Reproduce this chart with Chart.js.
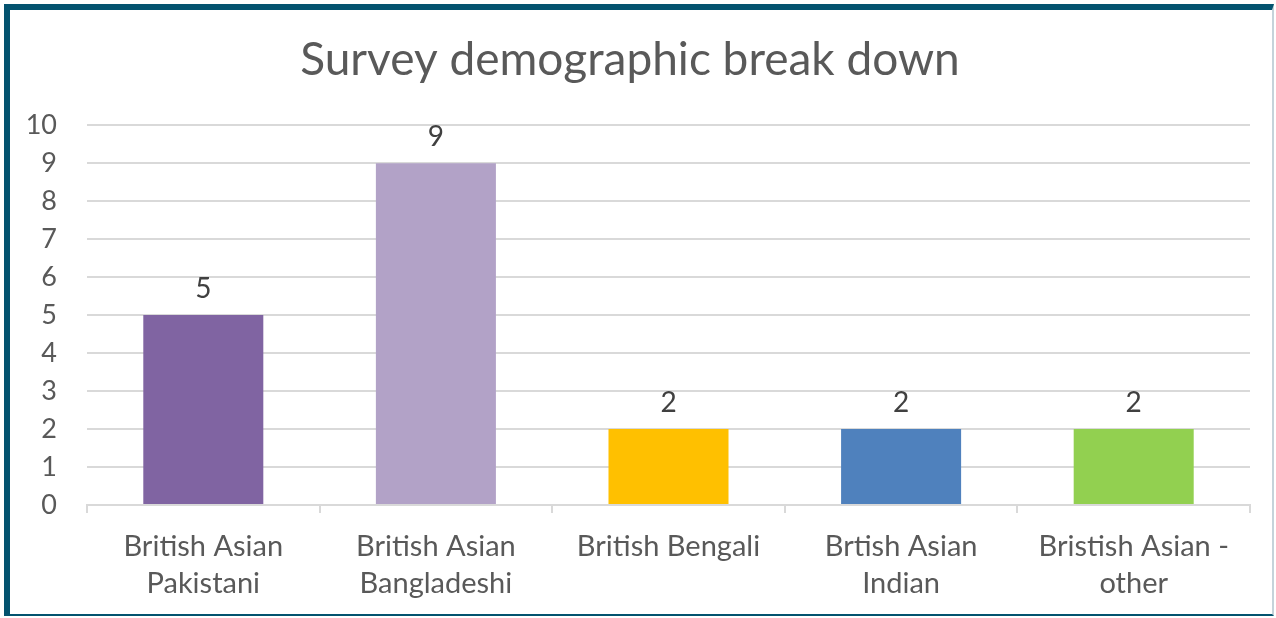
<!DOCTYPE html>
<html>
<head>
<meta charset="utf-8">
<script src="https://cdn.jsdelivr.net/npm/chart.js@4/dist/chart.umd.min.js"></script>
<style>
    html, body { margin: 0; padding: 0; background: #fff; }
    #frame {
        position: absolute;
        left: 4px;
        top: 4px;
        width: 1262px;
        height: 604px;
        border-top: 6px solid #03536f;
        border-left: 6px solid #03536f;
        border-bottom: 2px solid #03536f;
        border-right: 2px solid #c5d3da;
        background: #fff;
    }
    #chart { display: block; }
</style>
</head>
<body>
<div id="frame">
    <canvas id="chart" width="1262" height="604"></canvas>
</div>
<script>
const categories = [
    ['British Asian', 'Pakistani'],
    ['British Asian', 'Bangladeshi'],
    ['British Bengali'],
    ['Brtish Asian', 'Indian'],
    ['Bristish Asian -', 'other']
];
const respondents = [5, 9, 2, 2, 2];
const barColors = ['#8064a2', '#b2a2c7', '#ffc000', '#4f81bd', '#92d050'];

const FONT = 'Lato, "Open Sans", sans-serif';

// value labels above each bar
const valueLabels = {
    id: 'valueLabels',
    afterDatasetsDraw(chart) {
        const ctx = chart.ctx;
        const meta = chart.getDatasetMeta(0);
        ctx.save();
        ctx.fillStyle = '#404040';
        ctx.font = '28px ' + FONT;
        ctx.textAlign = 'center';
        ctx.textBaseline = 'alphabetic';
        meta.data.forEach((bar, i) => {
            ctx.fillText(respondents[i], bar.x, bar.y - 17);
        });
        ctx.restore();
    }
};

new Chart(document.getElementById('chart'), {
    type: 'bar',
    data: {
        labels: categories,
        datasets: [{
            data: respondents,
            backgroundColor: barColors,
            barPercentage: 0.516,
            categoryPercentage: 1
        }]
    },
    options: {
        responsive: false,
        animation: false,
        layout: { padding: { left: 0, right: 22, top: 0, bottom: 0 } },
        plugins: {
            legend: { display: false },
            tooltip: { enabled: false },
            title: {
                display: true,
                text: 'Survey demographic break down',
                color: '#595959',
                font: { family: FONT, size: 46, weight: 'normal' },
                padding: { top: 23, bottom: 37 }
            }
        },
        scales: {
            y: {
                min: 0,
                max: 10,
                ticks: {
                    stepSize: 1,
                    color: '#595959',
                    font: { family: FONT, size: 27 },
                    padding: 30
                },
                grid: { color: '#d9d9d9', lineWidth: 2, drawTicks: false },
                border: { display: false },
                afterFit(scale) { scale.width = 77; }
            },
            x: {
                offset: true,
                ticks: {
                    color: '#595959',
                    font: { family: FONT, size: 29, lineHeight: 1.28 },
                    padding: 15,
                    maxRotation: 0
                },
                grid: {
                    offset: true,
                    drawOnChartArea: false,
                    drawTicks: true,
                    tickLength: 8,
                    color: '#d9d9d9',
                    lineWidth: 2
                },
                border: { display: true, color: '#d9d9d9', width: 2 },
                afterFit(scale) { scale.height = 109; }
            }
        }
    },
    plugins: [valueLabels]
});
</script>
</body>
</html>
